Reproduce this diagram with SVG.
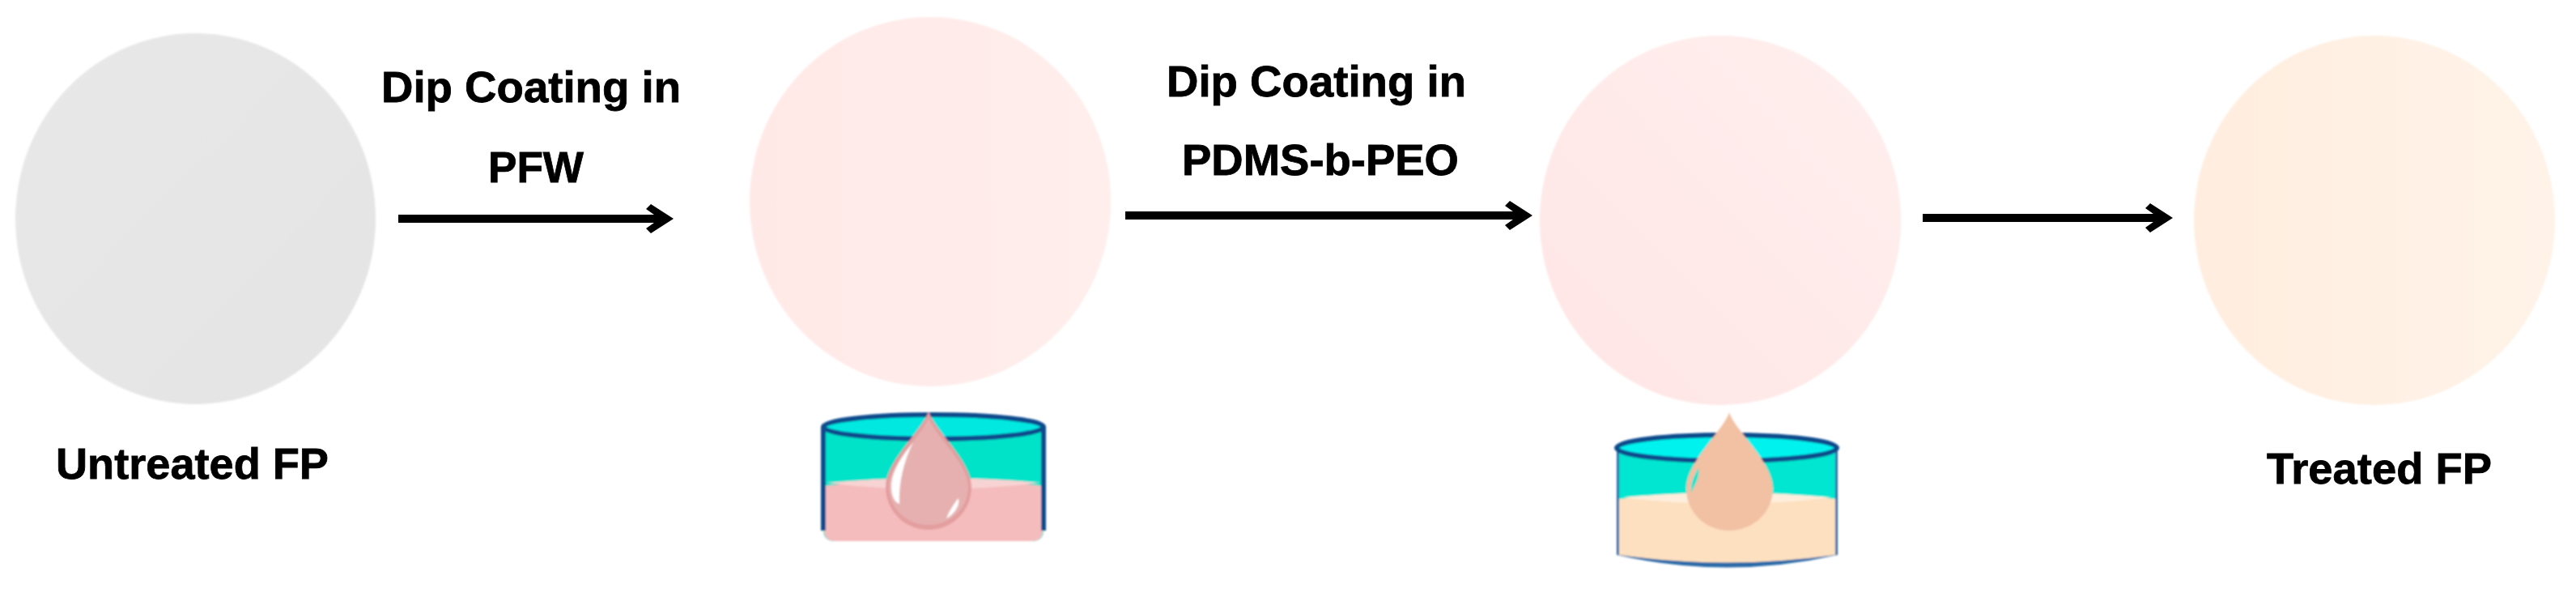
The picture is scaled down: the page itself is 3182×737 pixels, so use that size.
<svg xmlns="http://www.w3.org/2000/svg" width="3182" height="737" viewBox="0 0 3182 737">
  <style>
    .label { font-family: "Liberation Sans", Arial, sans-serif; font-weight: 700; font-size: 54px; fill: #000; stroke: #000; stroke-width: 0.8; }
    .arrow { fill: none; stroke: #000; stroke-width: 10; marker-end: url(#head); }
    .rim { stroke: #0f4c8c; stroke-width: 6; }
    .side { fill: none; stroke: #0f4c8c; stroke-width: 6; }
    .shine { fill: #fff; }
  </style>
  <defs>
    <marker id="head" markerUnits="userSpaceOnUse" markerWidth="50" markerHeight="50" refX="30" refY="25" orient="auto">
      <path d="M45 25 L17 43 L11 37 L28 25 L11 13 L17 7 Z" fill="#000"/>
    </marker>
    <filter id="soft" x="-5%" y="-5%" width="110%" height="110%"><feGaussianBlur stdDeviation="1"/></filter>
    <filter id="softtext" x="-5%" y="-20%" width="110%" height="140%"><feGaussianBlur stdDeviation="0.7"/></filter>
    <linearGradient id="g1" x1="0" y1="0" x2="1" y2="1"><stop offset="0" stop-color="#e8e8e8"/><stop offset="1" stop-color="#e4e4e4"/></linearGradient>
    <linearGradient id="g2" x1="0" y1="0" x2="1" y2="0"><stop offset="0" stop-color="#ffe9e7"/><stop offset="1" stop-color="#ffeeec"/></linearGradient>
    <linearGradient id="g3" x1="0" y1="1" x2="1" y2="0"><stop offset="0" stop-color="#ffe5e5"/><stop offset="1" stop-color="#ffefee"/></linearGradient>
    <linearGradient id="g4" x1="0" y1="0" x2="1" y2="0"><stop offset="0" stop-color="#ffeedf"/><stop offset="1" stop-color="#fff3e8"/></linearGradient>
  </defs>
  <rect width="3182" height="737" fill="#fff"/>

  <g id="untreated-fp">
    <ellipse cx="241.5" cy="270" rx="222.5" ry="229" fill="url(#g1)" filter="url(#soft)"/>
    <text class="label" x="69" y="591" textLength="337" lengthAdjust="spacingAndGlyphs" filter="url(#softtext)">Untreated FP</text>
  </g>

  <g id="fp-pfw">
    <ellipse cx="1149" cy="249" rx="223" ry="228" fill="url(#g2)" filter="url(#soft)"/>
  </g>

  <g id="beaker-pfw" filter="url(#soft)">
    <path d="M1017 527 V655 Q1017 668 1032 668 H1274 Q1289 668 1289 655 V527 Z" fill="#00e3c9"/>
    <path d="M1018 600 Q1153 584 1288 600 V655 Q1288 668 1274 668 H1032 Q1018 668 1018 655 Z" fill="#f5bcbd"/>
    <path d="M1020 596 Q1153 584 1286 596 Q1153 612 1020 596 Z" fill="#f8d3d3"/>
    <ellipse cx="1153" cy="527" rx="136" ry="15" fill="#00e8e0" class="rim"/>
    <path d="M1017 527 V655 M1289 527 V655" class="side"/>
    <path d="M1147 508 C1140 530 1094 570 1094 601 C1094 631 1118 654 1147 654 C1176 654 1200 631 1200 601 C1200 570 1154 530 1147 508Z" fill="#e39e9f"/>
    <path d="M1147 516 C1140 537 1098 572 1098 601 C1098 628 1120 648 1147 648 C1174 648 1196 628 1196 601 C1196 572 1154 537 1147 516Z" fill="#e6b0b0"/>
    <path d="M1128 546 C1117 560 1101 580 1101 601 C1101 612 1105 620 1111 622 C1110 596 1116 570 1128 546Z" class="shine"/>
    <path d="M1184 615 C1186 625 1178 635 1169 640 C1172 632 1178 622 1184 615Z" class="shine"/>
  </g>

  <g id="fp-pdms">
    <ellipse cx="2125" cy="272" rx="223" ry="228" fill="url(#g3)" filter="url(#soft)"/>
  </g>

  <g id="beaker-pdms" filter="url(#soft)">
    <path d="M1997 553 V685 Q2133 716 2270 685 V553 Z" fill="#2a6aa8"/>
    <path d="M2000 553 H2267 V616 H2000 Z" fill="#00e6d0"/>
    <path d="M2000 616 Q2133 600 2267 616 V685 Q2133 704 2000 685 Z" fill="#fde0bf"/>
    <path d="M2004 614 Q2133 602 2263 614 Q2133 630 2004 614 Z" fill="#fdeedd"/>
    <ellipse cx="2133" cy="553" rx="136" ry="16" fill="#00f2ee" class="rim"/>
    <path d="M2083 603 C2083 570 2130 530 2136 509 C2142 530 2190 570 2190 603 C2190 633 2165 655 2136 655 C2107 655 2083 633 2083 603Z" fill="#f2c1a4"/>
    <path d="M2098 578 C2092 588 2088 598 2089 608 C2094 598 2100 588 2098 578Z" fill="#00e6d0"/>
  </g>

  <g id="treated-fp">
    <ellipse cx="2933" cy="272" rx="223" ry="228" fill="url(#g4)" filter="url(#soft)"/>
    <text class="label" x="2800" y="597" textLength="278" lengthAdjust="spacingAndGlyphs" filter="url(#softtext)">Treated FP</text>
  </g>

  <g id="connectors">
    <path class="arrow" d="M492 270 H817"/>
    <path class="arrow" d="M1390 266 H1878"/>
    <path class="arrow" d="M2375 269 H2669"/>
  </g>

  <g id="connector-labels" filter="url(#softtext)">
    <text class="label" x="471" y="126" textLength="370" lengthAdjust="spacingAndGlyphs">Dip Coating in</text>
    <text class="label" x="603" y="225" textLength="118" lengthAdjust="spacingAndGlyphs">PFW</text>
    <text class="label" x="1441" y="119" textLength="370" lengthAdjust="spacingAndGlyphs">Dip Coating in</text>
    <text class="label" x="1460" y="216" textLength="342" lengthAdjust="spacingAndGlyphs">PDMS-b-PEO</text>
  </g>
</svg>
